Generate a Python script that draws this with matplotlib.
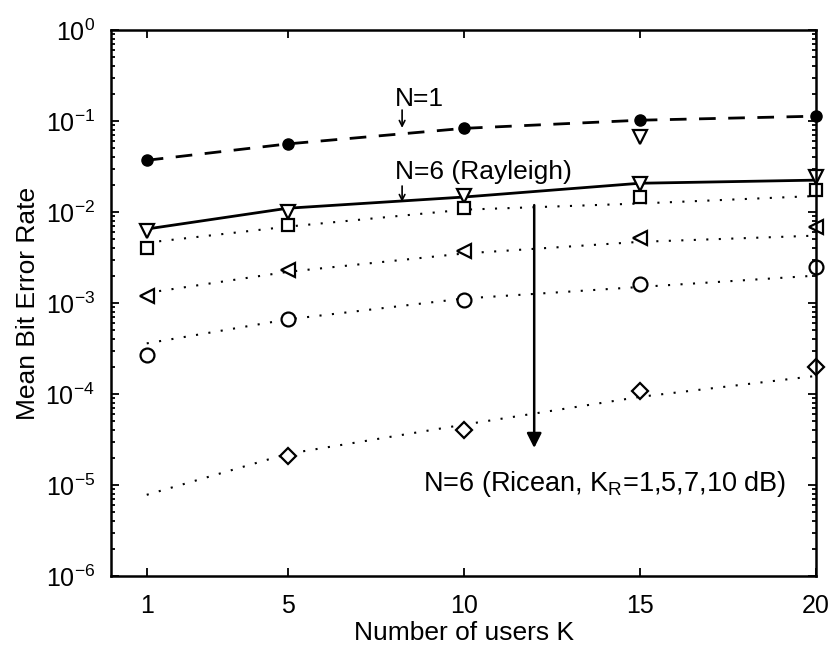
import numpy as np
import matplotlib
matplotlib.use('Agg')
import matplotlib.pyplot as plt

plt.rcParams['font.family'] = ['Liberation Sans', 'DejaVu Sans']
plt.rcParams['mathtext.fontset'] = 'custom'
plt.rcParams['mathtext.rm'] = 'Liberation Sans'
plt.rcParams['mathtext.it'] = 'Liberation Sans:italic'

# number of users
K = [1, 5, 10, 15, 20]

# N=1, dashed curve with filled dots
n1_ber = [0.037, 0.056, 0.083, 0.102, 0.113]
# lone simulation point at K=15
n1_extra_k = [15]
n1_extra_ber = [0.067]

# N=6 Rayleigh: curve and simulated points
ray_line = [0.0065, 0.0110, 0.0146, 0.0207, 0.0224]
ray_pts = [0.0062, 0.0100, 0.0150, 0.0205, 0.0245]

# N=6 Ricean, K_R = 1, 5, 7, 10 dB: curves and points
ric1_line = [0.0046, 0.0069, 0.0106, 0.0124, 0.0150]
ric1_pts = [0.0040, 0.0072, 0.0110, 0.0148, 0.0175]
ric5_line = [0.00129, 0.0022, 0.0035, 0.0047, 0.0055]
ric5_pts = [0.00118, 0.0023, 0.0037, 0.0052, 0.0069]
ric7_line = [0.00036, 0.00066, 0.00112, 0.0015, 0.0020]
ric7_pts = [0.00027, 0.00067, 0.00108, 0.0016, 0.0025]
ric10_line = [7.8e-6, 2.2e-5, 4.6e-5, 9.3e-5, 1.58e-4]
ric10_k = [5, 10, 15, 20]
ric10_pts = [2.1e-5, 4.0e-5, 1.07e-4, 2.0e-4]

fig = plt.figure(figsize=(8.29, 6.49), dpi=100)
ax = fig.add_axes([111.5/829, 1-576/649, (816-111.5)/829, (576-30)/649])
ax.set_yscale('log')

dot = (0, (1, 5))
ax.plot(K, n1_ber, color='black', lw=2, ls=(0, (6, 4.5)), marker='o', ms=8,
        clip_on=False)
ax.plot(n1_extra_k, n1_extra_ber, ls='none', marker='v', ms=10, mfc='white',
        mec='black', mew=1.6, clip_on=False)

ax.plot(K, ray_line, color='black', lw=2, clip_on=False)
ax.plot(K, ray_pts, ls='none', marker='v', ms=10, mfc='white', mec='black',
        mew=1.6, clip_on=False)

for line, pts, k, m, ms in [(ric1_line, ric1_pts, K, 's', 8),
                            (ric5_line, ric5_pts, K, '<', 10),
                            (ric7_line, ric7_pts, K, 'o', 10),
                            (ric10_line, ric10_pts, ric10_k, 'D', 8)]:
    ax.plot(K, line, color='black', lw=1.5, ls=dot, clip_on=False)
    ax.plot(k, pts, ls='none', marker=m, ms=ms, mfc='white', mec='black',
            mew=1.6, clip_on=False)

ax.set_xlim(0, 20)
ax.set_ylim(1e-6, 1)
ax.set_xticks([1, 5, 10, 15, 20])
ax.tick_params(which='both', direction='in', top=True, right=True, width=1.3)
ax.tick_params(which='major', length=6, labelsize=18)
ax.tick_params(axis='x', pad=13)
ax.tick_params(axis='y', pad=12)
ax.tick_params(which='minor', length=3)
for s in ax.spines.values():
    s.set_linewidth(1.8)

ax.set_xlabel('Number of users K', fontsize=19, labelpad=2)
ax.set_ylabel('Mean Bit Error Rate', fontsize=19, labelpad=4)

# annotations
ax.text(8.05, 10**-0.76, 'N=1', fontsize=19, ha='left', va='center')
ax.annotate('', xy=(8.25, 0.084), xytext=(8.25, 0.132),
            arrowprops=dict(arrowstyle='->', lw=1.2, color='black',
                            shrinkA=0, shrinkB=0))
ax.text(8.05, 0.0275, 'N=6 (Rayleigh)', fontsize=19, ha='left', va='center')
ax.annotate('', xy=(8.25, 0.0129), xytext=(8.25, 0.0193),
            arrowprops=dict(arrowstyle='->', lw=1.2, color='black',
                            shrinkA=0, shrinkB=0))
ax.annotate('', xy=(12, 2.55e-5), xytext=(12, 0.0119),
            arrowprops=dict(arrowstyle='-|>', lw=1.8, color='black',
                            mutation_scale=22, shrinkA=0, shrinkB=0))
ax.text(8.85, 1.02e-5, 'N=6 (Ricean, K$_\\mathrm{R}$=1,5,7,10 dB)',
        fontsize=19.5, ha='left', va='center')

fig.savefig('out.png', dpi=100)
